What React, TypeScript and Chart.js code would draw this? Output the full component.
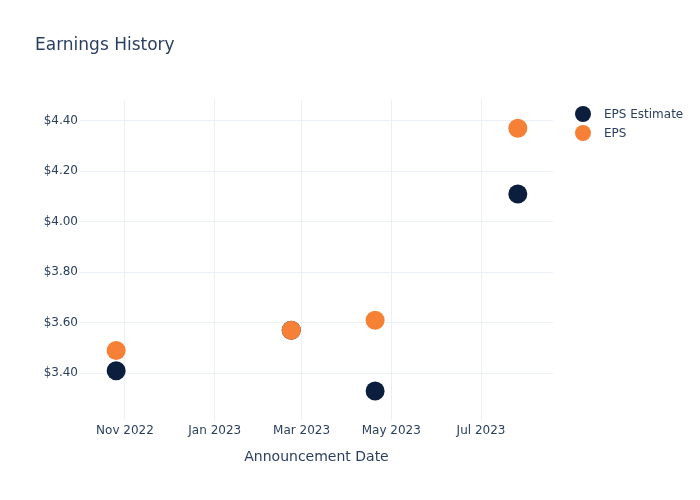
import React, { useEffect, useRef } from "react";
import { Chart, registerables } from "chart.js";

Chart.register(...registerables);

const announcementDates = ["2022-10-26", "2023-02-22", "2023-04-20", "2023-07-26"];
const epsEstimate = [3.41, 3.57, 3.33, 4.11];
const epsActual = [3.49, 3.57, 3.61, 4.37];

const xTickDates = ["2022-11-01", "2023-01-01", "2023-03-01", "2023-05-01", "2023-07-01"];
const xTickLabels = ["Nov 2022", "Jan 2023", "Mar 2023", "May 2023", "Jul 2023"];
const yTickValues = [3.4, 3.6, 3.8, 4.0, 4.2, 4.4];
const yTickLabels = ["$3.40", "$3.60", "$3.80", "$4.00", "$4.20", "$4.40"];

const xRange = ["2022-10-01T10:00:00Z", "2023-08-18T22:00:00Z"];
const yRange = [3.215, 4.482];

const seriesNames = ["EPS Estimate", "EPS"];
const seriesColors = ["#0c1e3e", "#f68136"];

const titleText = "Earnings History";
const xAxisTitle = "Announcement Date";

const FONT = "'DejaVu Sans', sans-serif";
const TEXT = "#2a3f5f";
const GRID = "#ebf0f8";

const ms = (d: string) => new Date(d).getTime();

export default function App() {
  const ref = useRef<HTMLCanvasElement | null>(null);

  useEffect(() => {
    if (!ref.current) return;
    const overlay = {
      id: "overlay",
      afterDraw(chart: any) {
        const ctx = chart.ctx as CanvasRenderingContext2D;
        ctx.save();
        ctx.fillStyle = TEXT;
        ctx.font = `17px ${FONT}`;
        ctx.textAlign = "left";
        ctx.textBaseline = "middle";
        ctx.fillText(titleText, 35, 45.5);
        chart.data.datasets.forEach((ds: any, i: number) => {
          const y = 114 + i * 19;
          ctx.beginPath();
          ctx.fillStyle = ds.backgroundColor;
          ctx.arc(583, y, 8, 0, Math.PI * 2);
          ctx.fill();
          ctx.fillStyle = TEXT;
          ctx.font = `12px ${FONT}`;
          ctx.textBaseline = "middle";
          ctx.fillText(ds.label, 604, y + 1);
        });
        ctx.restore();
      },
    };

    const chart = new Chart(ref.current, {
      type: "scatter",
      data: {
        datasets: [
          {
            label: seriesNames[0],
            data: announcementDates.map((d, i) => ({ x: ms(d), y: epsEstimate[i] })),
            backgroundColor: seriesColors[0],
            borderColor: seriesColors[0],
            pointRadius: 9.5,
            pointHoverRadius: 9.5,
            pointBorderWidth: 0,
            order: 1,
          },
          {
            label: seriesNames[1],
            data: announcementDates.map((d, i) => ({ x: ms(d), y: epsActual[i] })),
            backgroundColor: seriesColors[1],
            borderColor: seriesColors[1],
            pointRadius: 9.5,
            pointHoverRadius: 9.5,
            pointBorderWidth: 0,
            order: 0,
          },
        ],
      },
      options: {
        animation: false,
        responsive: true,
        maintainAspectRatio: false,
        layout: { padding: { left: 0, top: 100, right: 147, bottom: 0 } },
        plugins: { legend: { display: false }, tooltip: { enabled: false }, title: { display: false } },
        scales: {
          x: {
            type: "linear",
            min: ms(xRange[0]),
            max: ms(xRange[1]),
            afterFit: (s: any) => {
              s.height = 80;
            },
            afterBuildTicks: (s: any) => {
              s.ticks = xTickDates.map((d) => ({ value: ms(d) }));
            },
            ticks: {
              autoSkip: false,
              maxRotation: 0,
              padding: 4,
              color: TEXT,
              font: { family: FONT, size: 12 },
              callback: (_v: any, i: number) => xTickLabels[i],
            },
            grid: { color: GRID, lineWidth: 1, drawTicks: false },
            border: { display: false },
            title: {
              display: true,
              text: xAxisTitle,
              color: TEXT,
              font: { family: FONT, size: 14 },
              padding: { top: 0, bottom: 34 },
            },
          },
          y: {
            type: "linear",
            min: yRange[0],
            max: yRange[1],
            afterFit: (s: any) => {
              s.width = 80;
            },
            afterBuildTicks: (s: any) => {
              s.ticks = yTickValues.map((v) => ({ value: v }));
            },
            ticks: {
              padding: 2,
              color: TEXT,
              font: { family: FONT, size: 12 },
              callback: (_v: any, i: number) => yTickLabels[i],
            },
            grid: { color: GRID, lineWidth: 1, drawTicks: false },
            border: { display: false },
          },
        },
      },
      plugins: [overlay],
    } as any);
    return () => chart.destroy();
  }, []);

  return (
    <div style={{ position: "fixed", left: 0, top: 0, width: 700, height: 500, background: "#fff" }}>
      <canvas ref={ref} />
    </div>
  );
}
